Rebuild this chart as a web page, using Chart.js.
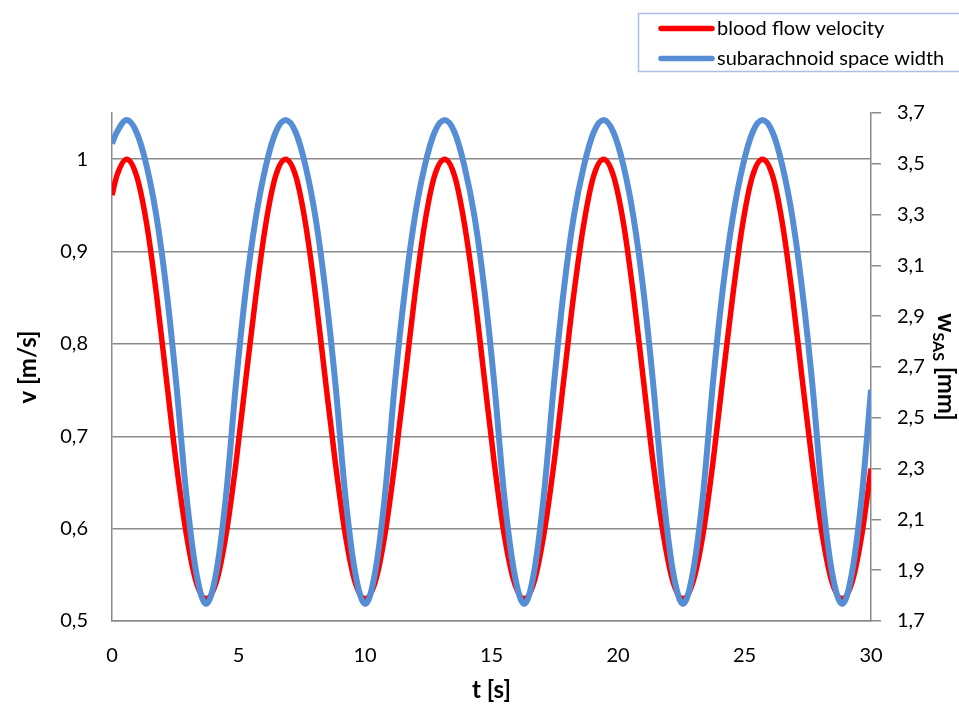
<!DOCTYPE html>
<html>
<head>
<meta charset="utf-8">
<script src="https://cdn.jsdelivr.net/npm/chart.js@4.4.1/dist/chart.umd.min.js"></script>
<style>
  html, body { margin: 0; padding: 0; background: #fff; }
  #wrap { width: 959px; height: 704px; }
</style>
</head>
<body>
<div id="wrap"><canvas id="flowChart" width="959" height="704"></canvas></div>
<script>
// time [s]
const times = [0, 0.19, 0.58, 0.97, 1.37, 1.76, 2.15, 2.54, 2.94, 3.33, 3.72, 4.12, 4.51, 4.90, 5.29, 5.69, 6.08, 6.47,
  6.86, 7.26, 7.65, 8.04, 8.43, 8.83, 9.22, 9.61, 10.01, 10.40, 10.79, 11.18, 11.58, 11.97, 12.36, 12.75,
  13.15, 13.54, 13.93, 14.33, 14.72, 15.11, 15.50, 15.90, 16.29, 16.68, 17.07, 17.47, 17.86, 18.25, 18.65, 19.04,
  19.43, 19.82, 20.22, 20.61, 21.00, 21.39, 21.79, 22.18, 22.57, 22.96, 23.36, 23.75, 24.14, 24.54, 24.93, 25.32,
  25.71, 26.11, 26.50, 26.89, 27.28, 27.68, 28.07, 28.46, 28.86, 29.25, 29.64, 30];

// blood flow velocity v [m/s]
const velocity = [0.961, 0.982,
  1.000, 0.982, 0.930, 0.853, 0.762, 0.671, 0.594, 0.542, 0.524, 0.542, 0.594, 0.671, 0.762, 0.853, 0.930, 0.982,
  1.000, 0.982, 0.930, 0.853, 0.762, 0.671, 0.594, 0.542, 0.524, 0.542, 0.594, 0.671, 0.762, 0.853, 0.930, 0.982,
  1.000, 0.982, 0.930, 0.853, 0.762, 0.671, 0.594, 0.542, 0.524, 0.542, 0.594, 0.671, 0.762, 0.853, 0.930, 0.982,
  1.000, 0.982, 0.930, 0.853, 0.762, 0.671, 0.594, 0.542, 0.524, 0.542, 0.594, 0.671, 0.762, 0.853, 0.930, 0.982,
  1.000, 0.982, 0.930, 0.853, 0.762, 0.671, 0.594, 0.542, 0.524, 0.542, 0.594, 0.665];

// subarachnoid space width w_SAS [mm]
const sasWidth = [3.58, 3.624,
  3.672, 3.624, 3.491, 3.291, 3.005, 2.634, 2.196, 1.891, 1.767, 1.891, 2.196, 2.634, 3.005, 3.291, 3.491, 3.624,
  3.672, 3.624, 3.491, 3.291, 3.005, 2.634, 2.196, 1.891, 1.767, 1.891, 2.196, 2.634, 3.005, 3.291, 3.491, 3.624,
  3.672, 3.624, 3.491, 3.291, 3.005, 2.634, 2.196, 1.891, 1.767, 1.891, 2.196, 2.634, 3.005, 3.291, 3.491, 3.624,
  3.672, 3.624, 3.491, 3.291, 3.005, 2.634, 2.196, 1.891, 1.767, 1.891, 2.196, 2.634, 3.005, 3.291, 3.491, 3.624,
  3.672, 3.624, 3.491, 3.291, 3.005, 2.634, 2.196, 1.891, 1.767, 1.891, 2.196, 2.61];

const seriesNames = ['blood flow velocity', 'subarachnoid space width'];
const vTicks = [0.5, 0.6, 0.7, 0.8, 0.9, 1.0];

const RED = '#ff0000';
const BLUE = '#558ed5';
const GRID = '#8a8a8a';
const FONT = 'Lato';

const comma = v => String(+v.toFixed(2)).replace('.', ',');

// legend box + axis titles drawn by hand (subscript, box cut off at the right)
const decorations = {
  id: 'decorations',
  afterDraw(chart) {
    const ctx = chart.ctx;
    const area = chart.chartArea;
    ctx.save();

    // legend
    ctx.strokeStyle = '#aabfe2';
    ctx.lineWidth = 1.5;
    ctx.strokeRect(638.5, 13.5, 340, 58);
    ctx.lineCap = 'round';
    ctx.lineWidth = 5.5;
    [[RED, 28.5], [BLUE, 58.5]].forEach(([c, y], i) => {
      ctx.strokeStyle = c;
      ctx.beginPath();
      ctx.moveTo(661, y);
      ctx.lineTo(712, y);
      ctx.stroke();
      ctx.fillStyle = '#000';
      ctx.font = '20px ' + FONT;
      ctx.textAlign = 'left';
      ctx.textBaseline = 'middle';
      ctx.fillText(seriesNames[i], 717, y);
    });

    // left title
    ctx.fillStyle = '#000';
    ctx.font = 'bold 24px ' + FONT;
    ctx.textAlign = 'center';
    ctx.textBaseline = 'middle';
    ctx.save();
    ctx.translate(28, (area.top + area.bottom) / 2);
    ctx.rotate(-Math.PI / 2);
    ctx.fillText('v [m/s]', 0, 0);
    ctx.restore();

    // bottom title
    ctx.fillText('t [s]', (area.left + area.right) / 2, 690);

    // right title with subscript
    ctx.textAlign = 'left';
    ctx.textBaseline = 'alphabetic';
    const big = 'bold 24px ' + FONT, small = 'bold 16px ' + FONT;
    ctx.font = big;
    const w1 = ctx.measureText('w').width;
    const w3 = ctx.measureText(' [mm]').width;
    ctx.font = small;
    const w2 = ctx.measureText('SAS').width;
    const total = w1 + w2 + w3;
    ctx.save();
    ctx.translate(938, (area.top + area.bottom) / 2 - total / 2);
    ctx.rotate(Math.PI / 2);
    ctx.font = big;
    ctx.fillText('w', 0, 0);
    ctx.font = small;
    ctx.fillText('SAS', w1, 5);
    ctx.font = big;
    ctx.fillText(' [mm]', w1 + w2, 0);
    ctx.restore();

    ctx.restore();
  }
};

new Chart(document.getElementById('flowChart').getContext('2d'), {
  type: 'line',
  data: {
    datasets: [
      {
        label: seriesNames[0],
        data: times.map((t, i) => ({ x: t, y: velocity[i] })),
        yAxisID: 'y',
        borderColor: RED,
        borderWidth: 5.5,
        pointRadius: 0,
        cubicInterpolationMode: 'monotone',
        order: 2
      },
      {
        label: seriesNames[1],
        data: times.map((t, i) => ({ x: t, y: sasWidth[i] })),
        yAxisID: 'y2',
        borderColor: BLUE,
        borderWidth: 6,
        pointRadius: 0,
        cubicInterpolationMode: 'monotone',
        order: 1
      }
    ]
  },
  options: {
    responsive: false,
    animation: false,
    layout: { padding: { top: 113, left: 0, right: 0, bottom: 0 } },
    plugins: {
      legend: { display: false },
      tooltip: { enabled: false }
    },
    scales: {
      x: {
        type: 'linear',
        min: 0,
        max: 30,
        afterFit: s => { s.height = 83; },
        grid: { drawOnChartArea: false, drawTicks: false },
        border: { display: true, color: GRID, width: 1.5 },
        ticks: { stepSize: 5, padding: 23, color: '#000', font: { family: FONT, size: 20 } }
      },
      y: {
        position: 'left',
        min: 0.5,
        max: 1.05,
        afterFit: s => { s.width = 112; },
        afterBuildTicks: s => { s.ticks = vTicks.map(v => ({ value: v })); },
        grid: { color: GRID, lineWidth: 1.5, drawTicks: false },
        border: { display: true, color: GRID, width: 1.5 },
        ticks: { padding: 24, color: '#000', font: { family: FONT, size: 20 }, callback: v => comma(v) }
      },
      y2: {
        position: 'right',
        min: 1.7,
        max: 3.7,
        afterFit: s => { s.width = 88; },
        grid: { drawOnChartArea: false, drawTicks: true, tickLength: 10, color: GRID, lineWidth: 1.5 },
        border: { display: true, color: GRID, width: 1.5 },
        ticks: { stepSize: 0.2, padding: 16, color: '#000', font: { family: FONT, size: 20 }, callback: v => comma(v) }
      }
    }
  },
  plugins: [decorations]
});
</script>
</body>
</html>
